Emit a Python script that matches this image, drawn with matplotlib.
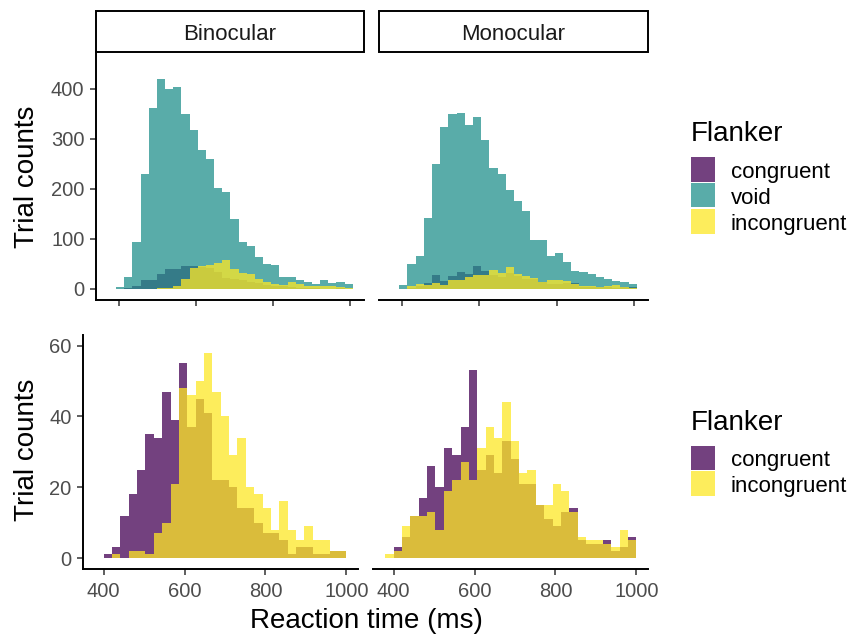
import numpy as np
import matplotlib.pyplot as plt
from matplotlib.patches import Rectangle

plt.rcParams['font.family'] = ['Liberation Sans', 'DejaVu Sans']

# --- data (counts per bin) ---
viewing = ['Binocular', 'Monocular']
flanker_top = ['congruent', 'void', 'incongruent']
flanker_bottom = ['congruent', 'incongruent']
flanker_colors = {'congruent': '#440154', 'void': '#21908C', 'incongruent': '#FDE725'}

# top row: 30 bins, 372-1006 ms
top_edges = np.linspace(372, 1006, 31)
bino_congruent_top = [0, 0, 2, 6, 18, 19, 30, 40, 41, 46, 47, 44, 42, 35, 22,
                      21, 18, 14, 12, 9, 7, 6, 4, 2, 3, 2, 1, 1, 2, 1]
bino_void_top = [1, 5, 24, 95, 230, 362, 420, 400, 405, 350, 318, 279, 260, 203, 195,
                 140, 95, 87, 65, 51, 49, 25, 24, 19, 15, 10, 18, 13, 14, 10]
bino_incongruent_top = [0, 0, 0, 0, 1, 1, 2, 3, 6, 20, 42, 47, 48, 52, 59,
                        40, 32, 31, 21, 14, 11, 9, 15, 10, 7, 7, 7, 6, 4, 2]
mono_congruent_top = [0, 1, 3, 6, 12, 28, 16, 26, 34, 30, 46, 36, 28, 24, 33,
                      27, 21, 21, 15, 11, 10, 13, 12, 5, 4, 4, 5, 2, 4, 5]
mono_void_top = [1, 9, 50, 66, 143, 251, 325, 350, 353, 329, 344, 299, 243, 230, 198,
                 177, 157, 98, 98, 66, 73, 54, 37, 35, 30, 24, 21, 17, 14, 10]
mono_incongruent_top = [0, 0, 7, 10, 8, 13, 9, 18, 18, 25, 28, 28, 38, 33, 45,
                        30, 26, 23, 15, 18, 18, 17, 11, 6, 6, 5, 7, 9, 5, 3]

# bottom row: 30 bins, 379-1000 ms
bottom_edges = np.linspace(379.3, 1000, 31)
bino_congruent = [0, 1, 3, 12, 18, 25, 35, 34, 47, 39, 55, 37, 45, 41, 22,
                  22, 20, 14, 14, 10, 7, 7, 5, 1, 3, 3, 1, 1, 2, 2]
bino_incongruent = [0, 0, 1, 0, 2, 2, 1, 7, 10, 21, 48, 46, 50, 58, 47,
                    40, 29, 34, 20, 18, 14, 8, 16, 8, 5, 9, 5, 5, 2, 2]
mono_congruent = [0, 3, 6, 12, 17, 26, 20, 31, 29, 37, 53, 25, 29, 24, 33,
                  28, 21, 21, 15, 11, 9, 13, 14, 5, 4, 4, 5, 2, 3, 6]
mono_incongruent = [1, 2, 9, 12, 12, 13, 8, 19, 22, 27, 22, 31, 37, 34, 44,
                    33, 24, 25, 15, 15, 21, 19, 13, 6, 5, 5, 4, 3, 8, 5]

top_counts = {
    'Binocular': [bino_congruent_top, bino_void_top, bino_incongruent_top],
    'Monocular': [mono_congruent_top, mono_void_top, mono_incongruent_top],
}
bottom_counts = {
    'Binocular': [bino_congruent, bino_incongruent],
    'Monocular': [mono_congruent, mono_incongruent],
}

W, H = 848, 638
fig = plt.figure(figsize=(W / 100, H / 100), dpi=100)


def add_ax(x0, y0, x1, y1):
    # pixel box (from top-left) -> figure fraction
    return fig.add_axes([x0 / W, 1 - y1 / H, (x1 - x0) / W, (y1 - y0) / H])


def style(ax, show_y):
    for s in ['top', 'right']:
        ax.spines[s].set_visible(False)
    ax.spines['bottom'].set_linewidth(1.4)
    ax.spines['left'].set_linewidth(1.4)
    ax.tick_params(length=4.3, width=1.1, color='#333333', labelsize=14.5,
                   labelcolor='#4D4D4D', pad=4)
    ax.set_xticks([400, 600, 800, 1000])
    if not show_y:
        ax.spines['left'].set_visible(False)
        ax.tick_params(axis='y', left=False, labelleft=False)
    ax.set_facecolor('none')


top_boxes = [(96, 52, 364, 300), (379, 52, 648, 300)]
bottom_boxes = [(83, 335, 358, 569), (373, 335, 648, 569)]

for i, v in enumerate(viewing):
    ax = add_ax(*top_boxes[i])
    for name, counts in zip(flanker_top, top_counts[v]):
        ax.stairs(counts, top_edges, fill=True, color=flanker_colors[name],
                  alpha=0.75, linewidth=0)
    ax.set_xlim(341, 1035)
    ax.set_ylim(-22, 474)
    ax.set_yticks([0, 100, 200, 300, 400])
    style(ax, i == 0)
    ax.tick_params(axis='x', labelbottom=False)
    # facet strip
    sh = 41 / 248
    ax.add_patch(Rectangle((0, 1), 1, sh, transform=ax.transAxes, clip_on=False,
                           facecolor='white', edgecolor='black', linewidth=1.4))
    ax.text(0.5, 1 + 12 / 248, v, transform=ax.transAxes, ha='center',
            va='baseline', fontsize=16, color='#1A1A1A')

    ax = add_ax(*bottom_boxes[i])
    for name, counts in zip(flanker_bottom, bottom_counts[v]):
        ax.stairs(counts, bottom_edges, fill=True, color=flanker_colors[name],
                  alpha=0.75, linewidth=0)
    ax.set_xlim(349, 1029)
    ax.set_ylim(-3.1, 63)
    ax.set_yticks([0, 20, 40, 60])
    style(ax, i == 0)
    ax.tick_params(axis='x', pad=5)

# axis titles
fig.text(27 / W, 1 - 177 / H, 'Trial counts', rotation=90, ha='center', va='center', fontsize=20)
fig.text(27 / W, 1 - 450 / H, 'Trial counts', rotation=90, ha='center', va='center', fontsize=20)
fig.text(366 / W, 1 - 628 / H, 'Reaction time (ms)', ha='center', va='baseline', fontsize=20)


def draw_legend(title_base, key_top, step, labels):
    fig.text(691 / W, 1 - title_base / H, 'Flanker', fontsize=20, va='baseline')
    for j, lab in enumerate(labels):
        y0 = key_top + j * step
        fig.patches.append(Rectangle((691 / W, 1 - (y0 + 24.5) / H), 24 / W, 24.5 / H,
                                     transform=fig.transFigure, facecolor=flanker_colors[lab],
                                     alpha=0.75, linewidth=0))
        fig.text(731 / W, 1 - (y0 + 20.7) / H, lab, fontsize=16, va='baseline')


draw_legend(140.7, 157, 26, flanker_top)
draw_legend(429.7, 445.7, 25.5, flanker_bottom)

fig.savefig('out.png', dpi=100)
